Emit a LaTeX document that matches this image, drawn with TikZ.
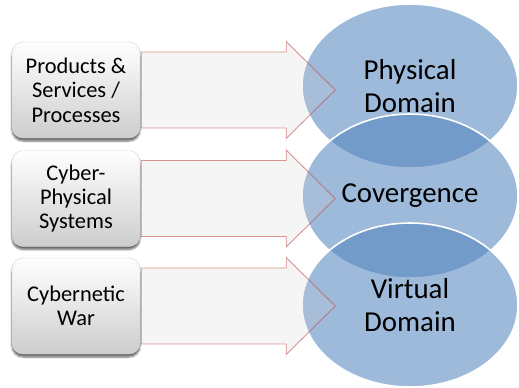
\documentclass[tikz,border=0pt]{standalone}
\usepackage{fontspec}
\setmainfont{Carlito}
\usetikzlibrary{shapes.geometric,shadows.blur,calc}
\definecolor{ellblue}{RGB}{79,129,189}
\definecolor{arrred}{RGB}{192,80,77}
\definecolor{arrgray}{RGB}{205,205,205}
\definecolor{boxbot}{RGB}{205,205,205}
\tikzset{
  srcbox/.style={rectangle, rounded corners=11bp, minimum width=128bp, minimum height=96bp,
    inner sep=0pt, align=center, top color=white, bottom color=boxbot, draw=gray!35, line width=0.4bp,
    blur shadow={shadow xshift=0bp, shadow yshift=-3bp, shadow blur steps=6, shadow opacity=60},
    font=\fontsize{22.5}{24.5}\selectfont},
  domainell/.style={ellipse, minimum width=216bp, minimum height=164bp, inner sep=0pt,
    fill=ellblue, fill opacity=0.55, draw=white, draw opacity=1, line width=1.6bp},
  dlabel/.style={align=center, font=\fontsize{29}{33}\selectfont, text=black},
  arr/.style={fill=arrgray, fill opacity=0.2, draw=arrred, draw opacity=0.6, line width=0.9bp, line join=miter},
}
\begin{document}
\begin{tikzpicture}[x=1bp,y=-1bp]
\useasboundingbox (0,0) rectangle (519,387);
% source boxes
\node[srcbox] (b1) at (76,90) {Products \&\\Services /\\Processes};
\node[srcbox] (b2) at (76,198.5) {Cyber-\\Physical\\Systems};
\node[srcbox] (b3) at (76,306) {Cybernetic\\War};
% domain ellipses
\node[domainell] (e1) at (410,86) {};
\node[domainell] (e2) at (410,196) {};
\node[domainell] (e3) at (410,305) {};
% block arrows from boxes towards ellipses
\foreach \b in {b1,b2,b3}{
  \draw[arr] ($(\b.east)+(1,-38)$) -- ++(145,0) -- ++(0,-10.5) -- ++(49,48.5)
    -- ++(-49,48.5) -- ++(0,-10.5) -- ++(-145,0) -- cycle;
}
% labels
\node[dlabel] (t1) at (e1.center) {Physical\\Domain};
\node[dlabel] (t2) at (e2.center) {Covergence};
\node[dlabel] (t3) at (e3.center) {Virtual\\Domain};
\end{tikzpicture}
\end{document}
